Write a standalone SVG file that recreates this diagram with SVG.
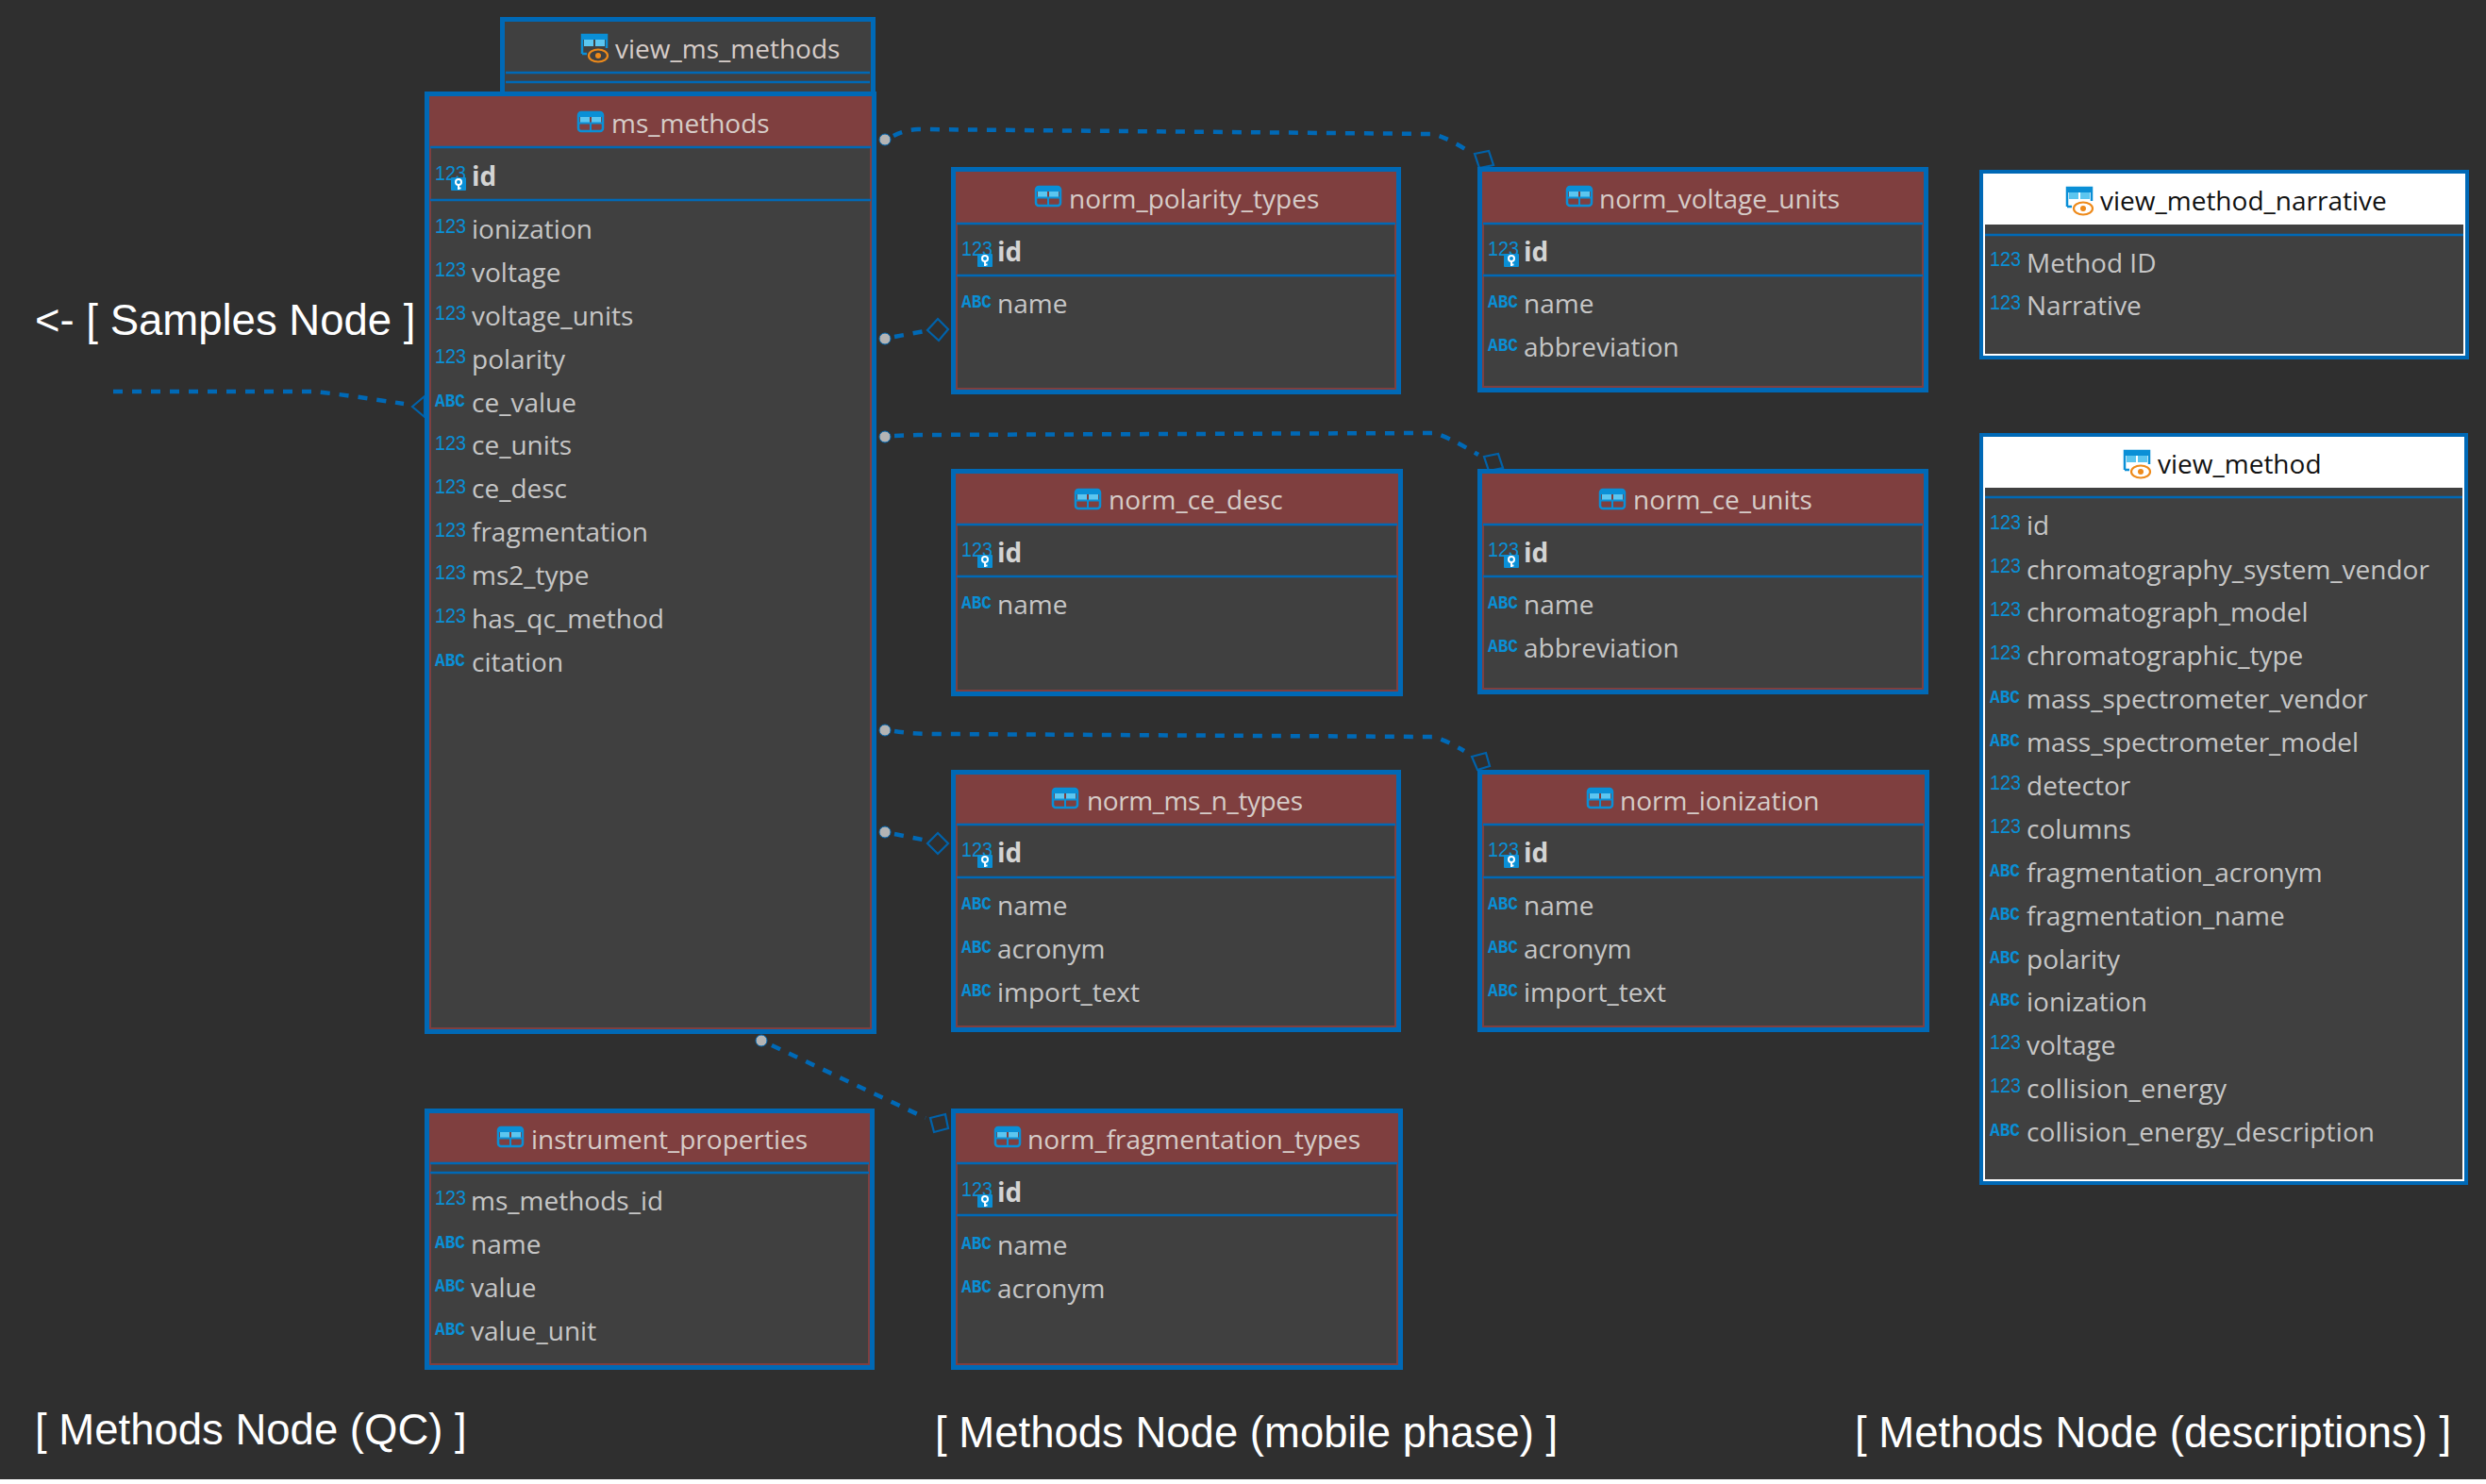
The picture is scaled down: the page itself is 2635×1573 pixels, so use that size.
<svg xmlns="http://www.w3.org/2000/svg" width="2635" height="1573" viewBox="0 0 2635 1573">
<style>
.box{fill:#404040;stroke:#0069b6;stroke-width:5}
.inr{fill:none;stroke:#7f3f3f;stroke-width:2}
.hd{fill:#7f3f3f}
.sep{stroke:#0069b6;stroke-width:2.5;fill:none}
text{font-family:"Open Sans","Noto Sans",sans-serif}
.t{font-size:28px;fill:#c6c6c6}
.k{font-size:28px;fill:#d4d4d4;font-weight:700}
.h{font-size:28px;fill:#d6ccc8}
.hb{font-size:28px;fill:#111}
.n{font-family:"Liberation Sans",sans-serif;font-size:22px;fill:#0a8fd6}
.a{font-family:"Liberation Mono",monospace;font-size:21px;font-weight:700;fill:#0a8fd6}
.lb{font-family:"Liberation Sans",Arial,sans-serif;font-size:45.500px;fill:#fff}
.c{fill:none;stroke:#0069b6;stroke-width:4.500;stroke-dasharray:10 10}
.d{fill:none;stroke:#0062aa;stroke-width:2.200}
.p{fill:#b4b4b4;stroke:#0069b6;stroke-width:1}
</style>
<defs>
<g id="tbl"><rect x="1" y="1" width="26" height="20" rx="3" fill="none" stroke="#0a8fd6" stroke-width="2.5"/><rect x="2" y="2" width="24" height="4" fill="#0a8fd6"/><rect x="3" y="6" width="10" height="6" fill="#5cc6f0"/><rect x="15" y="6" width="10" height="6" fill="#5cc6f0"/><path d="M1 12.500H27M14 12V21" stroke="#0a8fd6" stroke-width="2" fill="none"/></g>
<g id="vw"><path d="M1 21V1H27V15" fill="none" stroke="#0a8fd6" stroke-width="2.500"/><rect x="1" y="1" width="26" height="5" fill="#0a8fd6"/><rect x="3" y="6" width="10" height="7" fill="#5cc6f0"/><rect x="15" y="6" width="10" height="7" fill="#5cc6f0"/><path d="M1 21H6" stroke="#0a8fd6" stroke-width="2.500"/><ellipse cx="18" cy="23" rx="10" ry="6.500" fill="none" stroke="#ee8a1a" stroke-width="2.200"/><circle cx="18" cy="23" r="3" fill="#ee8a1a"/></g>
<g id="key"><rect x="0" y="0" width="16" height="14" rx="1" fill="#0a8fd6"/><circle cx="8" cy="5" r="3" fill="none" stroke="#fff" stroke-width="2"/><path d="M8 8V13M8 11.500H10.500" stroke="#fff" stroke-width="2" fill="none"/></g>
</defs>
<rect width="2635" height="1573" fill="#2f2f2f"/>
<rect y="1568" width="2635" height="5" fill="#fff"/>

<g id="connectors">
<path class="c" d="M947 144Q958 138 973 137L1518 142Q1530 144 1553 158"/>
<path class="c" d="M948 357L985 350"/>
<path class="c" d="M948 462L973 461L1518 459Q1530 460 1567 482"/>
<path class="c" d="M948 775Q965 778 1000 778L1518 781Q1530 783 1552 796"/>
<path class="c" d="M948 884L983 891"/>
<path class="c" d="M818 1108L981 1185"/>
<path class="c" d="M120 415H330Q350 416 428 428"/>
<path class="d" d="M1563 163L1578 160L1583 175L1568 178Z"/>
<path class="d" d="M994 338L1005 349L995 361L983 350Z"/>
<path class="d" d="M1573 484L1588 481L1593 496L1578 499Z"/>
<path class="d" d="M1560 802L1575 798L1579 812L1566 816Z"/>
<path class="d" d="M994 883L1005 894L994 905L983 894Z"/>
<path class="d" d="M986 1185L1002 1181L1005 1196L990 1200Z"/>
<path class="d" d="M437 431L450 420V442Z"/>
<circle class="p" cx="938" cy="148" r="6"/>
<circle class="p" cx="938" cy="359" r="6"/>
<circle class="p" cx="938" cy="463" r="6"/>
<circle class="p" cx="938" cy="774" r="6"/>
<circle class="p" cx="938" cy="882" r="6"/>
<circle class="p" cx="807" cy="1103" r="6"/>
</g>

<g id="view_ms_methods">
<rect class="box" x="532.500" y="20.500" width="393" height="90"/>
<path class="sep" d="M536 77H922M536 87H922"/>
<use href="#vw" x="616" y="36"/>
<text class="h" x="652" y="62">view_ms_methods</text>
</g>

<g id="ms_methods">
<rect class="box" x="452.500" y="99.500" width="474" height="994"/>
<rect class="inr" x="456" y="103" width="467" height="987"/>
<rect class="hd" x="456" y="103" width="467" height="53"/>
<path class="sep" d="M456 156H923M456 212H923"/>
<use href="#tbl" x="612" y="118"/>
<text class="h" x="648" y="141">ms_methods</text>
<text class="n" x="461" y="191" textLength="33" lengthAdjust="spacingAndGlyphs">123</text><use href="#key" x="478" y="188"/><text class="k" x="500" y="197">id</text>
<text class="n" x="461" y="247" textLength="33" lengthAdjust="spacingAndGlyphs">123</text><text class="t" x="500" y="253">ionization</text>
<text class="n" x="461" y="293" textLength="33" lengthAdjust="spacingAndGlyphs">123</text><text class="t" x="500" y="299">voltage</text>
<text class="n" x="461" y="339" textLength="33" lengthAdjust="spacingAndGlyphs">123</text><text class="t" x="500" y="345">voltage_units</text>
<text class="n" x="461" y="385" textLength="33" lengthAdjust="spacingAndGlyphs">123</text><text class="t" x="500" y="391">polarity</text>
<text class="a" x="461" y="431" textLength="32" lengthAdjust="spacingAndGlyphs">ABC</text><text class="t" x="500" y="437">ce_value</text>
<text class="n" x="461" y="477" textLength="33" lengthAdjust="spacingAndGlyphs">123</text><text class="t" x="500" y="482">ce_units</text>
<text class="n" x="461" y="523" textLength="33" lengthAdjust="spacingAndGlyphs">123</text><text class="t" x="500" y="528">ce_desc</text>
<text class="n" x="461" y="569" textLength="33" lengthAdjust="spacingAndGlyphs">123</text><text class="t" x="500" y="574">fragmentation</text>
<text class="n" x="461" y="614" textLength="33" lengthAdjust="spacingAndGlyphs">123</text><text class="t" x="500" y="620">ms2_type</text>
<text class="n" x="461" y="660" textLength="33" lengthAdjust="spacingAndGlyphs">123</text><text class="t" x="500" y="666">has_qc_method</text>
<text class="a" x="461" y="706" textLength="32" lengthAdjust="spacingAndGlyphs">ABC</text><text class="t" x="500" y="712">citation</text>
</g>

<g id="norm_polarity_types">
<rect class="box" x="1010.500" y="179.500" width="472" height="236"/>
<rect class="inr" x="1014" y="183" width="465" height="229"/>
<rect class="hd" x="1014" y="183" width="465" height="54"/>
<path class="sep" d="M1014 237H1479M1014 292H1479"/>
<use href="#tbl" x="1097" y="197"/>
<text class="h" x="1133" y="221">norm_polarity_types</text>
<text class="n" x="1019" y="271" textLength="33" lengthAdjust="spacingAndGlyphs">123</text><use href="#key" x="1036" y="269"/><text class="k" x="1057" y="277">id</text>
<text class="a" x="1019" y="326" textLength="32" lengthAdjust="spacingAndGlyphs">ABC</text><text class="t" x="1057" y="332">name</text>
</g>

<g id="norm_voltage_units">
<rect class="box" x="1568.500" y="179.500" width="473" height="234"/>
<rect class="inr" x="1572" y="183" width="466" height="227"/>
<rect class="hd" x="1572" y="183" width="466" height="54"/>
<path class="sep" d="M1572 237H2038M1572 292H2038"/>
<use href="#tbl" x="1660" y="197"/>
<text class="h" x="1695" y="221">norm_voltage_units</text>
<text class="n" x="1577" y="271" textLength="33" lengthAdjust="spacingAndGlyphs">123</text><use href="#key" x="1594" y="269"/><text class="k" x="1615" y="277">id</text>
<text class="a" x="1577" y="326" textLength="32" lengthAdjust="spacingAndGlyphs">ABC</text><text class="t" x="1615" y="332">name</text>
<text class="a" x="1577" y="372" textLength="32" lengthAdjust="spacingAndGlyphs">ABC</text><text class="t" x="1615" y="378">abbreviation</text>
</g>

<g id="norm_ce_desc">
<rect class="box" x="1010.500" y="499.500" width="474" height="236"/>
<rect class="inr" x="1014" y="503" width="467" height="229"/>
<rect class="hd" x="1014" y="503" width="467" height="53"/>
<path class="sep" d="M1014 556H1481M1014 611H1481"/>
<use href="#tbl" x="1139" y="518"/>
<text class="h" x="1175" y="540">norm_ce_desc</text>
<text class="n" x="1019" y="590" textLength="33" lengthAdjust="spacingAndGlyphs">123</text><use href="#key" x="1036" y="588"/><text class="k" x="1057" y="596">id</text>
<text class="a" x="1019" y="645" textLength="32" lengthAdjust="spacingAndGlyphs">ABC</text><text class="t" x="1057" y="651">name</text>
</g>

<g id="norm_ce_units">
<rect class="box" x="1568.500" y="499.500" width="473" height="234"/>
<rect class="inr" x="1572" y="503" width="466" height="227"/>
<rect class="hd" x="1572" y="503" width="466" height="53"/>
<path class="sep" d="M1572 556H2038M1572 611H2038"/>
<use href="#tbl" x="1695" y="518"/>
<text class="h" x="1731" y="540">norm_ce_units</text>
<text class="n" x="1577" y="590" textLength="33" lengthAdjust="spacingAndGlyphs">123</text><use href="#key" x="1594" y="588"/><text class="k" x="1615" y="596">id</text>
<text class="a" x="1577" y="645" textLength="32" lengthAdjust="spacingAndGlyphs">ABC</text><text class="t" x="1615" y="651">name</text>
<text class="a" x="1577" y="691" textLength="32" lengthAdjust="spacingAndGlyphs">ABC</text><text class="t" x="1615" y="697">abbreviation</text>
</g>

<g id="norm_ms_n_types">
<rect class="box" x="1010.500" y="818.500" width="472" height="273"/>
<rect class="inr" x="1014" y="822" width="465" height="266"/>
<rect class="hd" x="1014" y="822" width="465" height="52"/>
<path class="sep" d="M1014 874H1479M1014 930H1479"/>
<use href="#tbl" x="1115" y="835"/>
<text class="h" x="1152" y="859" textLength="229" lengthAdjust="spacing">norm_ms_n_types</text>
<text class="n" x="1019" y="908" textLength="33" lengthAdjust="spacingAndGlyphs">123</text><use href="#key" x="1036" y="906"/><text class="k" x="1057" y="914">id</text>
<text class="a" x="1019" y="964" textLength="32" lengthAdjust="spacingAndGlyphs">ABC</text><text class="t" x="1057" y="970">name</text>
<text class="a" x="1019" y="1010" textLength="32" lengthAdjust="spacingAndGlyphs">ABC</text><text class="t" x="1057" y="1016">acronym</text>
<text class="a" x="1019" y="1056" textLength="32" lengthAdjust="spacingAndGlyphs">ABC</text><text class="t" x="1057" y="1062">import_text</text>
</g>

<g id="norm_ionization">
<rect class="box" x="1568.500" y="818.500" width="474" height="273"/>
<rect class="inr" x="1572" y="822" width="467" height="266"/>
<rect class="hd" x="1572" y="822" width="467" height="52"/>
<path class="sep" d="M1572 874H2039M1572 930H2039"/>
<use href="#tbl" x="1682" y="835"/>
<text class="h" x="1717" y="859">norm_ionization</text>
<text class="n" x="1577" y="908" textLength="33" lengthAdjust="spacingAndGlyphs">123</text><use href="#key" x="1594" y="906"/><text class="k" x="1615" y="914">id</text>
<text class="a" x="1577" y="964" textLength="32" lengthAdjust="spacingAndGlyphs">ABC</text><text class="t" x="1615" y="970">name</text>
<text class="a" x="1577" y="1010" textLength="32" lengthAdjust="spacingAndGlyphs">ABC</text><text class="t" x="1615" y="1016">acronym</text>
<text class="a" x="1577" y="1056" textLength="32" lengthAdjust="spacingAndGlyphs">ABC</text><text class="t" x="1615" y="1062">import_text</text>
</g>

<g id="instrument_properties">
<rect class="box" x="452.500" y="1177.500" width="472" height="272"/>
<rect class="inr" x="456" y="1181" width="465" height="265"/>
<rect class="hd" x="456" y="1181" width="465" height="52"/>
<path class="sep" d="M456 1233H921M456 1243H921"/>
<use href="#tbl" x="527" y="1194"/>
<text class="h" x="563" y="1218">instrument_properties</text>
<text class="n" x="461" y="1277" textLength="33" lengthAdjust="spacingAndGlyphs">123</text><text class="t" x="499" y="1283">ms_methods_id</text>
<text class="a" x="461" y="1323" textLength="32" lengthAdjust="spacingAndGlyphs">ABC</text><text class="t" x="499" y="1329">name</text>
<text class="a" x="461" y="1369" textLength="32" lengthAdjust="spacingAndGlyphs">ABC</text><text class="t" x="499" y="1375">value</text>
<text class="a" x="461" y="1415" textLength="32" lengthAdjust="spacingAndGlyphs">ABC</text><text class="t" x="499" y="1421">value_unit</text>
</g>

<g id="norm_fragmentation_types">
<rect class="box" x="1010.500" y="1177.500" width="474" height="272"/>
<rect class="inr" x="1014" y="1181" width="467" height="265"/>
<rect class="hd" x="1014" y="1181" width="467" height="52"/>
<path class="sep" d="M1014 1233H1481M1014 1288H1481"/>
<use href="#tbl" x="1054" y="1194"/>
<text class="h" x="1089" y="1218">norm_fragmentation_types</text>
<text class="n" x="1019" y="1268" textLength="33" lengthAdjust="spacingAndGlyphs">123</text><use href="#key" x="1036" y="1266"/><text class="k" x="1057" y="1274">id</text>
<text class="a" x="1019" y="1324" textLength="32" lengthAdjust="spacingAndGlyphs">ABC</text><text class="t" x="1057" y="1330">name</text>
<text class="a" x="1019" y="1370" textLength="32" lengthAdjust="spacingAndGlyphs">ABC</text><text class="t" x="1057" y="1376">acronym</text>
</g>

<g id="view_method_narrative">
<rect x="2098" y="180" width="519" height="201" fill="#0069b6"/>
<rect x="2102" y="184" width="511" height="193" fill="#fff"/>
<rect x="2104" y="238" width="507" height="137" fill="#404040"/>
<path class="sep" d="M2104 249H2611"/>
<use href="#vw" x="2190" y="198"/>
<text class="hb" x="2226" y="223">view_method_narrative</text>
<text class="n" x="2109" y="282" textLength="33" lengthAdjust="spacingAndGlyphs">123</text><text class="t" x="2148" y="289">Method ID</text>
<text class="n" x="2109" y="328" textLength="33" lengthAdjust="spacingAndGlyphs">123</text><text class="t" x="2148" y="334">Narrative</text>
</g>

<g id="view_method">
<rect x="2098" y="459" width="518" height="797" fill="#0069b6"/>
<rect x="2102" y="463" width="510" height="789" fill="#fff"/>
<rect x="2104" y="517" width="506" height="733" fill="#404040"/>
<path class="sep" d="M2104 527H2610"/>
<use href="#vw" x="2251" y="477"/>
<text class="hb" x="2287" y="502">view_method</text>
<text class="n" x="2109" y="561" textLength="33" lengthAdjust="spacingAndGlyphs">123</text><text class="t" x="2148" y="567">id</text>
<text class="n" x="2109" y="607" textLength="33" lengthAdjust="spacingAndGlyphs">123</text><text class="t" x="2148" y="614">chromatography_system_vendor</text>
<text class="n" x="2109" y="653" textLength="33" lengthAdjust="spacingAndGlyphs">123</text><text class="t" x="2148" y="659">chromatograph_model</text>
<text class="n" x="2109" y="699" textLength="33" lengthAdjust="spacingAndGlyphs">123</text><text class="t" x="2148" y="705">chromatographic_type</text>
<text class="a" x="2109" y="745" textLength="32" lengthAdjust="spacingAndGlyphs">ABC</text><text class="t" x="2148" y="751">mass_spectrometer_vendor</text>
<text class="a" x="2109" y="791" textLength="32" lengthAdjust="spacingAndGlyphs">ABC</text><text class="t" x="2148" y="797">mass_spectrometer_model</text>
<text class="n" x="2109" y="837" textLength="33" lengthAdjust="spacingAndGlyphs">123</text><text class="t" x="2148" y="843">detector</text>
<text class="n" x="2109" y="883" textLength="33" lengthAdjust="spacingAndGlyphs">123</text><text class="t" x="2148" y="889">columns</text>
<text class="a" x="2109" y="929" textLength="32" lengthAdjust="spacingAndGlyphs">ABC</text><text class="t" x="2148" y="935">fragmentation_acronym</text>
<text class="a" x="2109" y="975" textLength="32" lengthAdjust="spacingAndGlyphs">ABC</text><text class="t" x="2148" y="981">fragmentation_name</text>
<text class="a" x="2109" y="1021" textLength="32" lengthAdjust="spacingAndGlyphs">ABC</text><text class="t" x="2148" y="1027">polarity</text>
<text class="a" x="2109" y="1066" textLength="32" lengthAdjust="spacingAndGlyphs">ABC</text><text class="t" x="2148" y="1072">ionization</text>
<text class="n" x="2109" y="1112" textLength="33" lengthAdjust="spacingAndGlyphs">123</text><text class="t" x="2148" y="1118">voltage</text>
<text class="n" x="2109" y="1158" textLength="33" lengthAdjust="spacingAndGlyphs">123</text><text class="t" x="2148" y="1164" textLength="212" lengthAdjust="spacing">collision_energy</text>
<text class="a" x="2109" y="1204" textLength="32" lengthAdjust="spacingAndGlyphs">ABC</text><text class="t" x="2148" y="1210" textLength="369" lengthAdjust="spacing">collision_energy_description</text>
</g>

<text class="lb" x="37" y="355">&lt;- [ Samples Node ]</text>
<text class="lb" x="37" y="1531">[ Methods Node (QC) ]</text>
<text class="lb" x="991" y="1534">[ Methods Node (mobile phase) ]</text>
<text class="lb" x="1966" y="1534">[ Methods Node (descriptions) ]</text>
</svg>
